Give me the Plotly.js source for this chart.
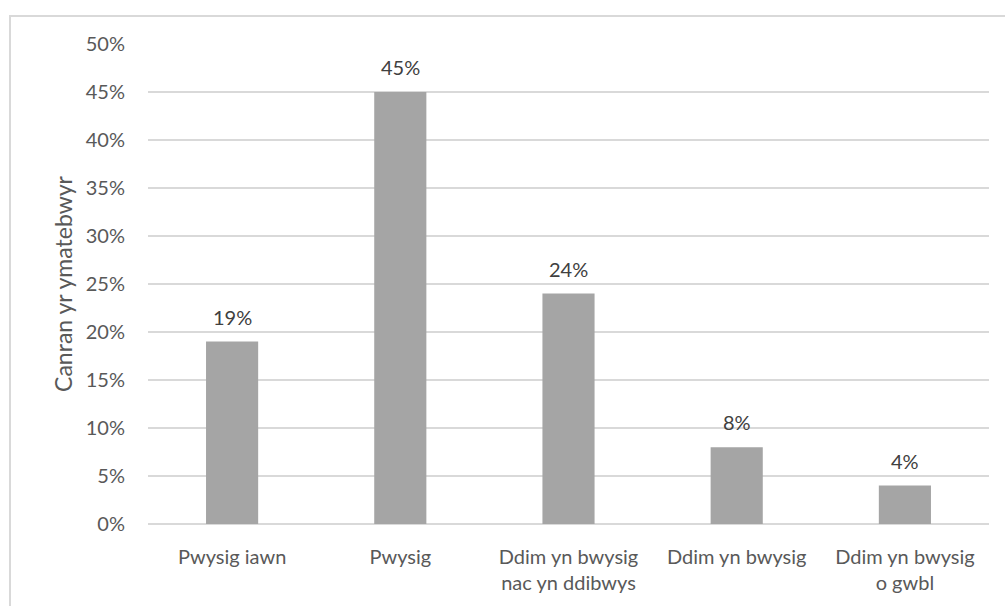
<!DOCTYPE html>
<html>
<head>
<meta charset="utf-8">
<script src="https://cdn.plot.ly/plotly-3.0.1.min.js"></script>
<style>
html,body{margin:0;padding:0;background:#fff;}
#frame{position:absolute;left:9px;top:15px;width:1100px;height:700px;border-left:2px solid #d9d9d9;border-top:2px solid #d9d9d9;box-sizing:border-box;}
#chart{position:absolute;left:0;top:0;width:1005px;height:606px;}
</style>
</head>
<body>
<div id="frame"></div>
<div id="chart"></div>
<script>
var categories = ["Pwysig iawn", "Pwysig", "Ddim yn bwysig<br>nac yn ddibwys", "Ddim yn bwysig", "Ddim yn bwysig<br>o gwbl"];
var values = [0.19, 0.45, 0.24, 0.08, 0.04];
var valueLabels = ["19%", "45%", "24%", "8%", "4%"];
var yTickVals = [0, 0.05, 0.10, 0.15, 0.20, 0.25, 0.30, 0.35, 0.40, 0.45, 0.50];
var yTickText = ["0%", "5%", "10%", "15%", "20%", "25%", "30%", "35%", "40%", "45%", "50%"];
var yTitle = "Canran yr ymatebwyr";

var FONT = 'Lato, "Open Sans", sans-serif';

var trace = {
  type: 'bar',
  x: categories,
  y: values,
  marker: {color: '#a5a5a5'},
  hoverinfo: 'none'
};

var annotations = categories.map(function(c, i){
  return {
    x: c, y: values[i], xref: 'x', yref: 'y',
    text: valueLabels[i], showarrow: false,
    yanchor: 'bottom', yshift: 11,
    font: {family: FONT, size: 20, color: '#404040'}
  };
});

var layout = {
  width: 1005, height: 606,
  paper_bgcolor: 'rgba(0,0,0,0)',
  plot_bgcolor: 'rgba(0,0,0,0)',
  margin: {l: 148, r: 16, t: 44, b: 82},
  bargap: 0.69,
  showlegend: false,
  font: {family: FONT, color: '#595959', size: 20},
  annotations: annotations,
  xaxis: {
    showgrid: false, showline: false, zeroline: false, ticks: '',
    tickfont: {size: 20, color: '#595959'},
    ticklabelstandoff: 19
  },
  yaxis: {
    range: [0, 0.5],
    tickvals: yTickVals, ticktext: yTickText,
    showgrid: true, gridcolor: '#d9d9d9', gridwidth: 1.5,
    zeroline: true, zerolinecolor: '#d9d9d9', zerolinewidth: 1.5,
    showline: false, ticks: '',
    ticklabelstandoff: 22,
    tickfont: {size: 20, color: '#595959'},
    title: {text: yTitle, font: {size: 23, color: '#595959'}, standoff: 6}
  }
};

Plotly.newPlot('chart', [trace], layout, {displayModeBar: false, staticPlot: true});
</script>
</body>
</html>
